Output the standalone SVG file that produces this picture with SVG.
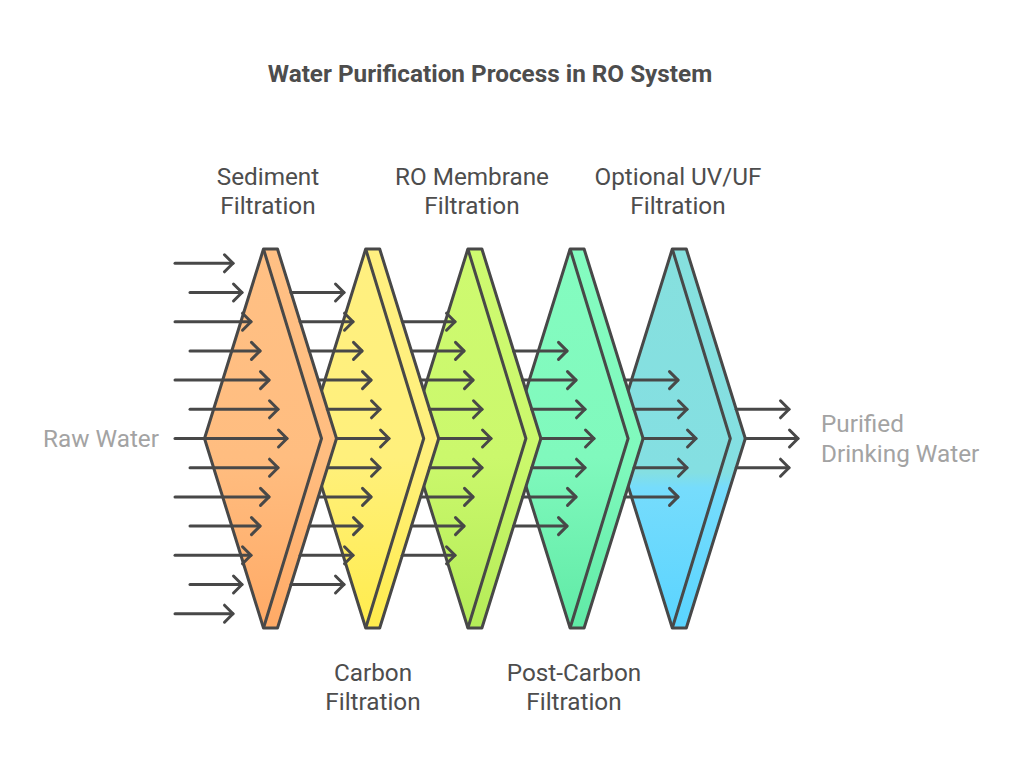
<svg xmlns="http://www.w3.org/2000/svg" width="1024" height="776" viewBox="0 0 1024 776">
<style>
text{font-family:Roboto,"Liberation Sans",sans-serif;font-size:24.300px;fill:#4d4d4d;text-anchor:middle}
.title{font-weight:700;font-size:24.300px}
.side{fill:#a3a3a3}
.s{stroke:#484848;stroke-width:3;stroke-linejoin:round}
.i{fill:none;stroke:#484848;stroke-width:3;stroke-linejoin:round}
#connectors path{fill:none;stroke:#484848;stroke-width:3;stroke-linecap:round;marker-end:url(#ah)}
</style>
<defs>
<linearGradient id="g1" x1="0" y1="0" x2="0" y2="1"><stop offset="0" stop-color="#ffc084"/><stop offset="0.55" stop-color="#ffbd80"/><stop offset="1" stop-color="#ffaa66"/></linearGradient>
<linearGradient id="g2" x1="0" y1="0" x2="0" y2="1"><stop offset="0" stop-color="#fff080"/><stop offset="0.55" stop-color="#fff07c"/><stop offset="1" stop-color="#ffec4d"/></linearGradient>
<linearGradient id="g3" x1="0" y1="0" x2="0" y2="1"><stop offset="0" stop-color="#cefa70"/><stop offset="0.55" stop-color="#cbf86c"/><stop offset="1" stop-color="#b4ec58"/></linearGradient>
<linearGradient id="g4" x1="0" y1="0" x2="0" y2="1"><stop offset="0" stop-color="#84fcc0"/><stop offset="0.55" stop-color="#80f9bd"/><stop offset="1" stop-color="#60eaa6"/></linearGradient>
<linearGradient id="g5" x1="0" y1="0" x2="0" y2="1"><stop offset="0" stop-color="#86e0de"/><stop offset="0.59" stop-color="#84dfe2"/><stop offset="0.63" stop-color="#76dcfc"/><stop offset="1" stop-color="#5ad4ff"/></linearGradient>
<marker id="ah" markerUnits="userSpaceOnUse" markerWidth="24" markerHeight="24" viewBox="-12 -12 24 24" refX="0" refY="0" orient="auto" overflow="visible"><path d="M-8.500-8.500 0 0-8.500 8.500" fill="none" stroke="#484848" stroke-width="3" stroke-linecap="round" stroke-linejoin="round"/></marker>
</defs>
<text class="title" x="490" y="82">Water Purification Process in RO System</text>
<g id="node-uv">
<path class="s" fill="url(#g5)" d="M672.300 249H686.300L745.300 438.500 686.300 628H672.300L613.300 438.500Z"/>
<path class="i" d="M672.300 249 730.300 438.500 672.300 628"/>
<text x="678" y="185">Optional UV/UF</text><text x="678" y="214">Filtration</text>
</g>
<g id="node-post-carbon">
<path class="s" fill="url(#g4)" d="M570.100 249H584.100L643.100 438.500 584.100 628H570.100L511.100 438.500Z"/>
<path class="i" d="M570.100 249 628.100 438.500 570.100 628"/>
<text x="574" y="681">Post-Carbon</text><text x="574" y="710">Filtration</text>
</g>
<g id="node-ro">
<path class="s" fill="url(#g3)" d="M467.900 249H481.900L540.900 438.500 481.900 628H467.900L408.900 438.500Z"/>
<path class="i" d="M467.900 249 525.900 438.500 467.900 628"/>
<text x="472" y="185">RO Membrane</text><text x="472" y="214">Filtration</text>
</g>
<g id="node-carbon">
<path class="s" fill="url(#g2)" d="M365.700 249H379.700L438.700 438.500 379.700 628H365.700L306.700 438.500Z"/>
<path class="i" d="M365.700 249 423.700 438.500 365.700 628"/>
<text x="373" y="681">Carbon</text><text x="373" y="710">Filtration</text>
</g>
<g id="node-sediment">
<path class="s" fill="url(#g1)" d="M263.500 249H277.500L336.500 438.500 277.500 628H263.500L204.500 438.500Z"/>
<path class="i" d="M263.500 249 321.500 438.500 263.500 628"/>
<text x="268" y="185">Sediment</text><text x="268" y="214">Filtration</text>
</g>
<g id="node-raw"><text class="side" x="101" y="447">Raw Water</text></g>
<g id="node-purified"><text class="side" style="text-anchor:start" x="821" y="432">Purified</text><text class="side" style="text-anchor:start" x="821" y="462">Drinking Water</text></g>
<g id="connectors">
<path d="M175 263.300H233"/><path d="M190 292.500H242"/><path d="M175 321.700H251"/><path d="M190 350.900H260"/><path d="M175 380.100H269"/><path d="M190 409.300H278"/><path d="M175 438.500H287"/><path d="M190 467.700H278"/><path d="M175 496.900H269"/><path d="M190 526.100H260"/><path d="M175 555.300H251"/><path d="M190 584.500H242"/><path d="M175 613.700H233"/>
<path d="M291 292.500H344"/><path d="M300.100 321.700H353"/><path d="M309.200 350.900H362"/><path d="M318.300 380.100H371"/><path d="M327.400 409.300H380"/><path d="M336.500 438.500H389"/><path d="M327.400 467.700H380"/><path d="M318.300 496.900H371"/><path d="M309.200 526.100H362"/><path d="M300.100 555.300H353"/><path d="M291 584.500H344"/>
<path d="M402.300 321.700H455"/><path d="M411.400 350.900H464"/><path d="M420.500 380.100H473"/><path d="M429.600 409.300H482"/><path d="M438.700 438.500H491"/><path d="M429.600 467.700H482"/><path d="M420.500 496.900H473"/><path d="M411.400 526.100H464"/><path d="M402.300 555.300H455"/>
<path d="M513.600 350.900H567"/><path d="M522.700 380.100H576"/><path d="M531.800 409.300H585"/><path d="M540.900 438.500H594"/><path d="M531.800 467.700H585"/><path d="M522.700 496.900H576"/><path d="M513.600 526.100H567"/>
<path d="M624.900 380.100H678"/><path d="M634 409.300H687"/><path d="M643.100 438.500H696"/><path d="M634 467.700H687"/><path d="M624.900 496.900H678"/>
<path d="M736.200 409.300H789"/><path d="M745.300 438.500H798"/><path d="M736.200 467.700H789"/>
</g>
</svg>
